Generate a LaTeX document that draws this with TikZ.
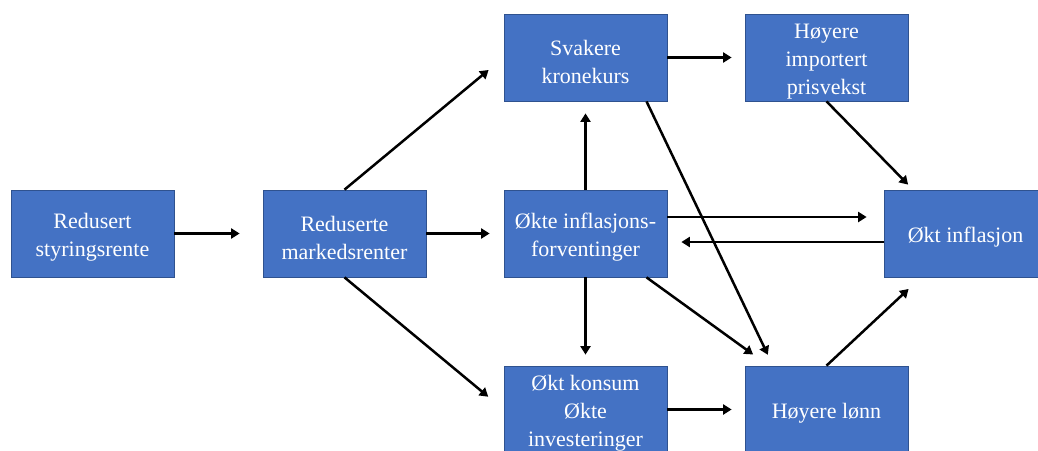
\documentclass[tikz,border=0pt]{standalone}
\usepackage{fontspec}
\setmainfont{Liberation Serif}
\usetikzlibrary{arrows.meta,calc}
\definecolor{boxfill}{HTML}{4472C4}
\definecolor{boxline}{HTML}{2F528F}
\begin{document}
\begin{tikzpicture}[x=1pt,y=-1pt,
  box/.style={rectangle,fill=boxfill,draw=boxline,line width=0.75pt,
    minimum width=163pt,minimum height=87pt,inner sep=0pt},
  txt/.style={text=white,align=center,inner sep=0pt,yshift=-4pt,
    font=\fontsize{22}{28}\selectfont},
  arr/.style={draw=black,line width=2.5pt,-{Triangle[length=8.5pt,width=10pt]}}]
\useasboundingbox (0,0) rectangle (1038,450);
\node[box,label={[txt]center:{Redusert\\styringsrente}}] (b1) at (92.5,233.5) {};
\node[box,label={[txt]center:{Reduserte\\markedsrenter}}] (b2) at (344.5,233.5) {};
\node[box,label={[txt]center:{Svakere\\kronekurs}}] (b3) at (585.5,57.5) {};
\node[box,label={[txt]center:{Høyere\\importert\\prisvekst}}] (b4) at (826.5,57.5) {};
\node[box,label={[txt]center:{Økte inflasjons-\\forventinger}}] (b5) at (585.5,233.5) {};
\node[box,label={[txt]center:{Økt inflasjon}}] (b6) at (965.5,233.5) {};
\node[box,label={[txt]center:{Økt konsum\\Økte\\investeringer}}] (b7) at (585.5,409.5) {};
\node[box,label={[txt]center:{Høyere lønn}}] (b8) at (826.5,409.5) {};
\draw[arr,shorten >=23pt] (b1.east) -- (b2.west);
\draw[arr,shorten >=14pt] (b2.east) -- (b5.west);
\draw[arr,shorten >=19.5pt] (b2.north) -- (b3.west);
\draw[arr,shorten >=20pt] (b2.south) -- (b7.west);
\draw[arr,shorten >=12pt] (b5.north) -- (b3.south);
\draw[arr,shorten >=11pt] (b5.south) -- (b7.north);
\draw[arr,shorten >=13pt] (b3.east) -- (b4.west);
\draw[arr,shorten >=7pt] (b4.south) -- ([xshift=-52.5pt]b6.north);
\draw[arr,shorten >=17pt] ([yshift=16.5pt]b5.east) -- ([yshift=16.5pt]b6.west);
\draw[arr,shorten >=14pt] ([yshift=-8.5pt]b6.west) -- ([yshift=-8.5pt]b5.east);
\draw[arr,shorten >=12pt] ([xshift=61pt]b3.south) -- ([xshift=-53.5pt]b8.north);
\draw[arr,shorten >=19pt] ([xshift=61pt]b5.south) -- ([xshift=-58pt]b8.north);
\draw[arr,shorten >=17pt] (b8.north) -- ([xshift=-44.5pt]b6.south);
\draw[arr,shorten >=13pt] (b7.east) -- (b8.west);
\end{tikzpicture}
\end{document}
